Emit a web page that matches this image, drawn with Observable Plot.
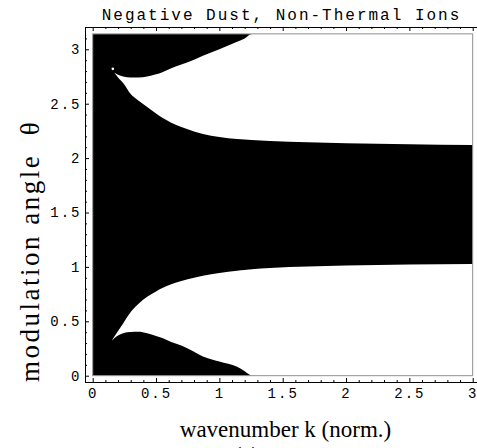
<!DOCTYPE html>
<html><head><meta charset="utf-8">
<script src="https://cdn.jsdelivr.net/npm/d3@7"></script>
<script src="https://cdn.jsdelivr.net/npm/@observablehq/plot@0.6"></script>
<style>
body{margin:0;background:#fff}
[font-family="Liberation Mono"]{letter-spacing:2px}
.ylab{letter-spacing:2.5px}
</style>
</head><body><div id="chart"></div>
<script>
const title = "Negative Dust, Non-Thermal Ions";
const xLabel = "wavenumber k (norm.)";
const yLabel = "modulation angle \u00a0θ";
const panelLabel = "(a)";
const kMax = 3;
const thetaMax = Math.PI;
const xTicks = [0, 0.5, 1, 1.5, 2, 2.5, 3];
const yTicks = [0, 0.5, 1, 1.5, 2, 2.5, 3];
const xMinorTicks = [0.1,0.2,0.3,0.4,0.6,0.7,0.8,0.9,1.1,1.2,1.3,1.4,1.6,1.7,1.8,1.9,2.1,2.2,2.3,2.4,2.6,2.7,2.8,2.9];
const yMinorTicks = [0.1,0.2,0.3,0.4,0.6,0.7,0.8,0.9,1.1,1.2,1.3,1.4,1.6,1.7,1.8,1.9,2.1,2.2,2.3,2.4,2.6,2.7,2.8,2.9,3.1];

// upper white region: between top of the central black band and the upper black lobe
const kUpper    = [0.17, 0.2,  0.24, 0.3,  0.36, 0.43, 0.5,  0.55, 0.62, 0.7,  0.8,  0.87, 1.0,  1.14, 1.2,  1.255,  1.4,   1.7,   2,     2.5,   3];
const upperLobe = [2.786,2.765,2.750,2.740,2.740,2.749,2.77, 2.79, 2.825,2.86, 2.905,2.94, 3.0,  3.07, 3.10, 3.1416, 3.1416,3.1416,3.1416,3.1416,3.1416];
const upperBand = [2.786,2.74, 2.69, 2.59, 2.53, 2.47, 2.41, 2.37, 2.325,2.285,2.245,2.222,2.195,2.175,2.170,2.166,  2.157, 2.145, 2.137, 2.127, 2.12];

// lower white region: between bottom of the central black band and the lower black lobe
const kLower    = [0.15, 0.2,  0.24, 0.3,  0.36, 0.43, 0.5,  0.55, 0.62, 0.7,  0.8,  0.87, 1.0,  1.14, 1.2,  1.23,  1.255, 1.4,  1.7,  2,    2.5,  3];
const lowerBand = [0.322,0.41, 0.48, 0.585,0.66, 0.725,0.775,0.805,0.84, 0.87, 0.90, 0.918,0.945,0.965,0.972,0.975, 0.978, 0.99, 1.003,1.012,1.021,1.027];
const lowerLobe = [0.322,0.37, 0.39, 0.402,0.403,0.39, 0.365,0.347,0.31, 0.278,0.22, 0.176,0.13, 0.082,0.04, 0.015, 0,     0,    0,    0,    0,    0];

const dotK = [0.155];
const dotTheta = [2.825];

const upperRows = kUpper.map((k, i) => ({k, lo: upperBand[i], hi: upperLobe[i]}));
const lowerRows = kLower.map((k, i) => ({k, lo: lowerLobe[i], hi: lowerBand[i]}));
const dots = dotK.map((k, i) => ({k, t: dotTheta[i]}));

const mono = "Liberation Mono";
const serif = "Liberation Serif";

const chart = Plot.plot({
  width: 477,
  height: 448,
  marginLeft: 85,
  marginRight: 0,
  marginTop: 27,
  marginBottom: 66,
  x: {domain: [0, kMax], range: [92.7, 472.7]},
  y: {domain: [0, thetaMax], range: [375.7, 33.9]},
  style: {background: "white", color: "black", fontFamily: mono},
  marks: [
    Plot.rect([{}], {x1: 0, x2: kMax, y1: 0, y2: thetaMax, fill: "black"}),
    Plot.areaY(upperRows, {x: "k", y1: "lo", y2: "hi", fill: "white", curve: "monotone-x"}),
    Plot.areaY(lowerRows, {x: "k", y1: "lo", y2: "hi", fill: "white", curve: "monotone-x"}),
    Plot.dot(dots, {x: "k", y: "t", r: 1.3, fill: "white"}),
    Plot.rect([{}], {x1: 0, x2: kMax, y1: 0, y2: thetaMax, fill: "none", stroke: "#999", strokeWidth: 1}),
    Plot.frame({anchor: "bottom", stroke: "black"}),
    Plot.frame({anchor: "left", stroke: "black"}),
    Plot.frame({anchor: "top", stroke: "black"}),
    // inward tick marks
    Plot.ruleX(xTicks, {x: d => d, insetTop: 351, stroke: "black"}),
    Plot.ruleX(xMinorTicks, {x: d => d, insetTop: 353, stroke: "black"}),
    Plot.ruleX(xTicks, {x: d => d, insetBottom: 351, stroke: "black"}),
    Plot.ruleX(xMinorTicks, {x: d => d, insetBottom: 353, stroke: "black"}),
    Plot.ruleY(yTicks, {y: d => d, insetRight: 388, stroke: "black"}),
    Plot.ruleY(yMinorTicks, {y: d => d, insetRight: 390, stroke: "black"}),
    // tick labels
    Plot.axisX(xTicks, {anchor: "bottom", tickSize: 0, tickPadding: 6, fontSize: 14, fontFamily: mono, label: null, tickFormat: d => String(d)}),
    Plot.axisY(yTicks, {anchor: "left", tickSize: 0, tickPadding: 4, fontSize: 14, fontFamily: mono, label: null, tickFormat: d => String(d)}),
    Plot.text([title], {frameAnchor: "top", dy: -8, lineAnchor: "bottom", fontSize: 16, fontFamily: mono, fill: "black"}),
    Plot.text([xLabel], {frameAnchor: "bottom", dx: 4, dy: 54, lineAnchor: "bottom", fontSize: 23, fontFamily: serif, fill: "black"}),
    Plot.text([panelLabel], {frameAnchor: "bottom", dx: -35, dy: 80, lineAnchor: "bottom", fontSize: 23, fontFamily: serif, fill: "black"}),
    Plot.text([yLabel], {frameAnchor: "left", textAnchor: "middle", dx: -47, dy: 46, rotate: -90, lineAnchor: "bottom", fontSize: 27, fontFamily: serif, fill: "black", className: "ylab"})
  ]
});
document.getElementById("chart").appendChild(chart);
</script>
</body></html>
